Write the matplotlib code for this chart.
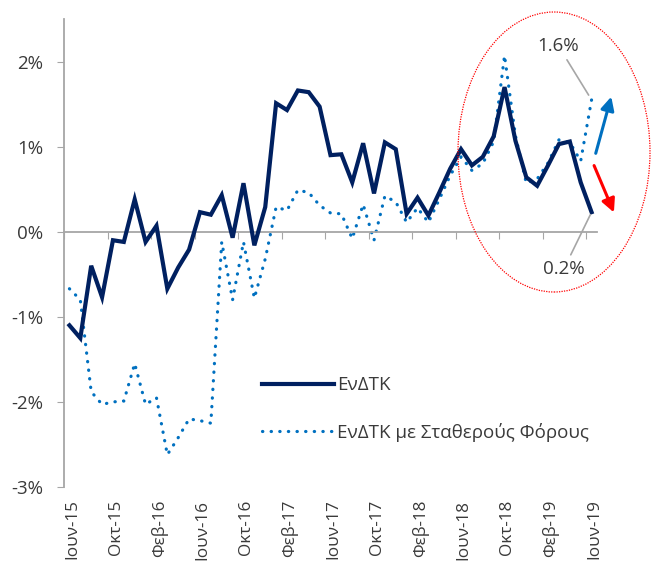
import matplotlib
matplotlib.use("Agg")
import matplotlib.pyplot as plt
from matplotlib.patches import Ellipse, FancyArrowPatch
from matplotlib.ticker import FuncFormatter

plt.rcParams['font.family'] = ['Open Sans', 'DejaVu Sans']

# monthly, Ιουν-15 ... Ιουν-19 (49 months), values in %
hicp = [-1.10, -1.25, -0.40, -0.77, -0.10, -0.12, 0.38, -0.12, 0.07, -0.67,
        -0.42, -0.21, 0.23, 0.20, 0.43, -0.07, 0.57, -0.16, 0.29, 1.51,
        1.43, 1.66, 1.64, 1.47, 0.90, 0.91, 0.58, 1.04, 0.45, 1.05,
        0.97, 0.21, 0.40, 0.19, 0.46, 0.74, 0.97, 0.78, 0.88, 1.12,
        1.70, 1.07, 0.64, 0.54, 0.78, 1.03, 1.06, 0.58, 0.23]
hicp_ct = [-0.67, -0.80, -1.88, -2.03, -2.00, -1.99, -1.55, -2.03, -1.95, -2.62,
           -2.42, -2.20, -2.22, -2.25, -0.12, -0.80, -0.12, -0.78, -0.32, 0.29,
           0.25, 0.49, 0.46, 0.31, 0.22, 0.21, -0.08, 0.32, -0.10, 0.42,
           0.35, 0.11, 0.28, 0.11, 0.38, 0.66, 0.88, 0.72, 0.80, 1.06,
           2.07, 1.13, 0.57, 0.62, 0.81, 1.08, 1.05, 0.83, 1.55]
tick_labels = ["Ιουν-15", "Οκτ-15", "Φεβ-16", "Ιουν-16", "Οκτ-16", "Φεβ-17", "Ιουν-17",
               "Οκτ-17", "Φεβ-18", "Ιουν-18", "Οκτ-18", "Φεβ-19", "Ιουν-19"]
series_names = ["ΕνΔΤΚ", "ΕνΔΤΚ με Σταθερούς Φόρους"]

NAVY = "#002060"
BLUE = "#0070C0"
GREY = "#A6A6A6"
TEXT = "#3A3A3A"
FS = 13.5

x = list(range(len(hicp)))

fig = plt.figure(figsize=(6.51, 5.66), dpi=100)
ax = fig.add_axes([64 / 651, 1 - 487 / 566, 533 / 651, 468 / 566])

ax.plot(x, hicp, color=NAVY, lw=3.0, solid_joinstyle="miter", label=series_names[0], zorder=3)
ax.plot(x, hicp_ct, color=BLUE, lw=2.3, linestyle=(0, (0.1, 2.6)), dash_capstyle="round",
        label=series_names[1], zorder=2)

ax.set_xlim(-0.5, len(x) - 0.5)
ax.set_ylim(-3, 2.5)
ax.set_yticks([-3, -2, -1, 0, 1, 2])
ax.yaxis.set_major_formatter(FuncFormatter(lambda v, p: f"{v:.0f}%"))
ax.tick_params(axis="y", length=5, color=GREY, labelcolor=TEXT, labelsize=FS, pad=10)

# category axis crosses at 0, tick marks between categories
ax.spines["bottom"].set_position(("data", 0))
ax.set_xticks([i - 0.5 for i in range(0, len(x), 4)])
ax.tick_params(axis="x", length=5, color=GREY, labelbottom=False)
for side in ("top", "right"):
    ax.spines[side].set_visible(False)
for side in ("left", "bottom"):
    ax.spines[side].set_color(GREY)
    ax.spines[side].set_linewidth(1.3)

sec = ax.secondary_xaxis("bottom")
sec.set_xticks([i + 0.25 for i in range(0, len(x), 4)], tick_labels, rotation=90)
sec.tick_params(length=0, pad=9, labelsize=12.3, labelcolor=TEXT)
sec.spines["bottom"].set_visible(False)

ax.legend(loc="upper left", bbox_to_anchor=(253 / 651, 1 - 367 / 566),
          bbox_transform=fig.transFigure, frameon=False, fontsize=FS,
          handlelength=3.8, handletextpad=0.2, labelspacing=1.5, borderpad=0,
          labelcolor=TEXT)

# value call-outs for the last month
ax.annotate("1.6%", xy=(x[-1], hicp_ct[-1]), xytext=(-24, 39), textcoords="offset points",
            ha="center", va="center", fontsize=FS, color=TEXT,
            arrowprops=dict(arrowstyle="-", color=GREY, lw=1.2, shrinkA=2, shrinkB=4))
ax.annotate("0.2%", xy=(x[-1], hicp[-1]), xytext=(-20, -41), textcoords="offset points",
            ha="center", va="center", fontsize=FS, color=TEXT,
            arrowprops=dict(arrowstyle="-", color=GREY, lw=1.2, shrinkA=2, shrinkB=2))

# direction arrows and highlight ellipse
fig.add_artist(FancyArrowPatch(
    (595 / 651, 1 - 156 / 566), (612 / 651, 1 - 94 / 566), transform=fig.transFigure,
    arrowstyle="-|>", mutation_scale=20, color=BLUE, lw=2.2))
fig.add_artist(FancyArrowPatch(
    (593 / 651, 1 - 163 / 566), (615 / 651, 1 - 215 / 566), transform=fig.transFigure,
    arrowstyle="-|>", mutation_scale=20, color="#FF0000", lw=2.2))
fig.add_artist(Ellipse((554 / 651, 1 - 152 / 566), 192 / 651, 280 / 566,
                       transform=fig.transFigure, fill=False, edgecolor="#FF0000",
                       lw=0.9, linestyle=(0, (1, 1))))

fig.savefig("out.png", dpi=100)
